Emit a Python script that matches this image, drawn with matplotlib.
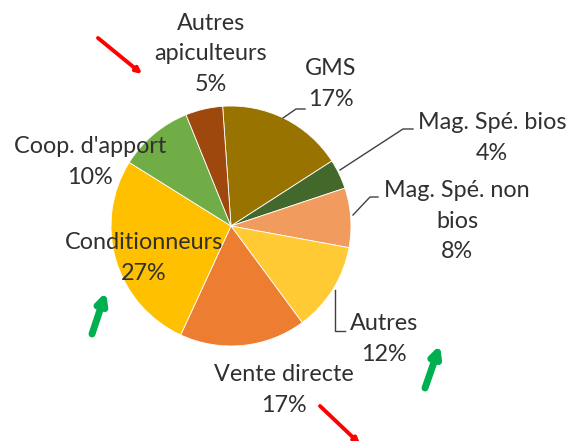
import matplotlib
matplotlib.use('Agg')
import matplotlib.pyplot as plt

# Répartition des débouchés (ordre horaire depuis le haut)
categories = ['GMS', 'Mag. Spé. bios', 'Mag. Spé. non\nbios', 'Autres',
              'Vente directe', 'Conditionneurs', "Coop. d'apport",
              'Autres\napiculteurs']
shares = [17, 4, 8, 12, 17, 27, 10, 5]
colors = ['#997300', '#43682B', '#F19C5E', '#FFCA33',
          '#ED7D31', '#FFC000', '#70AD47', '#9E480E']

# position des étiquettes (pixels, origine en haut à gauche)
label_xy = [(331, 84), (492, 138), (457, 221), (384, 339),
            (284, 390), (144, 258), (90, 162), (211, 54)]
# lignes de rappel
leaders = [
    [(283, 118), (296, 109), (305, 109)],
    [(340, 170), (403, 129), (413, 129)],
    [(353, 215), (370, 197), (378, 197)],
    [(335, 290), (335, 331), (345, 331)],
]

W, H = 571, 441
fig = plt.figure(figsize=(W / 100, H / 100), dpi=100)
ax = fig.add_axes([0, 0, 1, 1])

ax.pie(shares, colors=colors, startangle=94, counterclock=False,
       center=(231, H - 226), radius=120,
       wedgeprops=dict(edgecolor='white', linewidth=0.6))
ax.set_xlim(0, W)
ax.set_ylim(0, H)
ax.set_aspect('equal')
ax.axis('off')

for cat, val, (x, y) in zip(categories, shares, label_xy):
    ax.text(x, H - y, f'{cat}\n{val}%', ha='center', va='center',
            fontsize=16.8, family=['Lato', 'DejaVu Sans'], color='#303030',
            linespacing=1.55)

for pts in leaders:
    ax.plot([p[0] for p in pts], [H - p[1] for p in pts],
            color='#404040', lw=1)

# flèches : (départ, arrivée, couleur, épaisseur, taille de la pointe)
arrows = [((98, 38), (142, 74), '#FF0000', 2.8, 8),
          ((320, 406), (360, 444), '#FF0000', 2.8, 8),
          ((92, 334), (106, 292), '#00B050', 5, 15),
          ((425, 388), (440, 345), '#00B050', 5, 15)]
for (x0, y0), (x1, y1), c, lw, ms in arrows:
    ax.annotate('', xy=(x1, H - y1), xytext=(x0, H - y0),
                arrowprops=dict(arrowstyle='-|>', color=c, lw=lw,
                                mutation_scale=ms,
                                shrinkA=0, shrinkB=0),
                annotation_clip=False)

fig.savefig('out.png', dpi=100)
